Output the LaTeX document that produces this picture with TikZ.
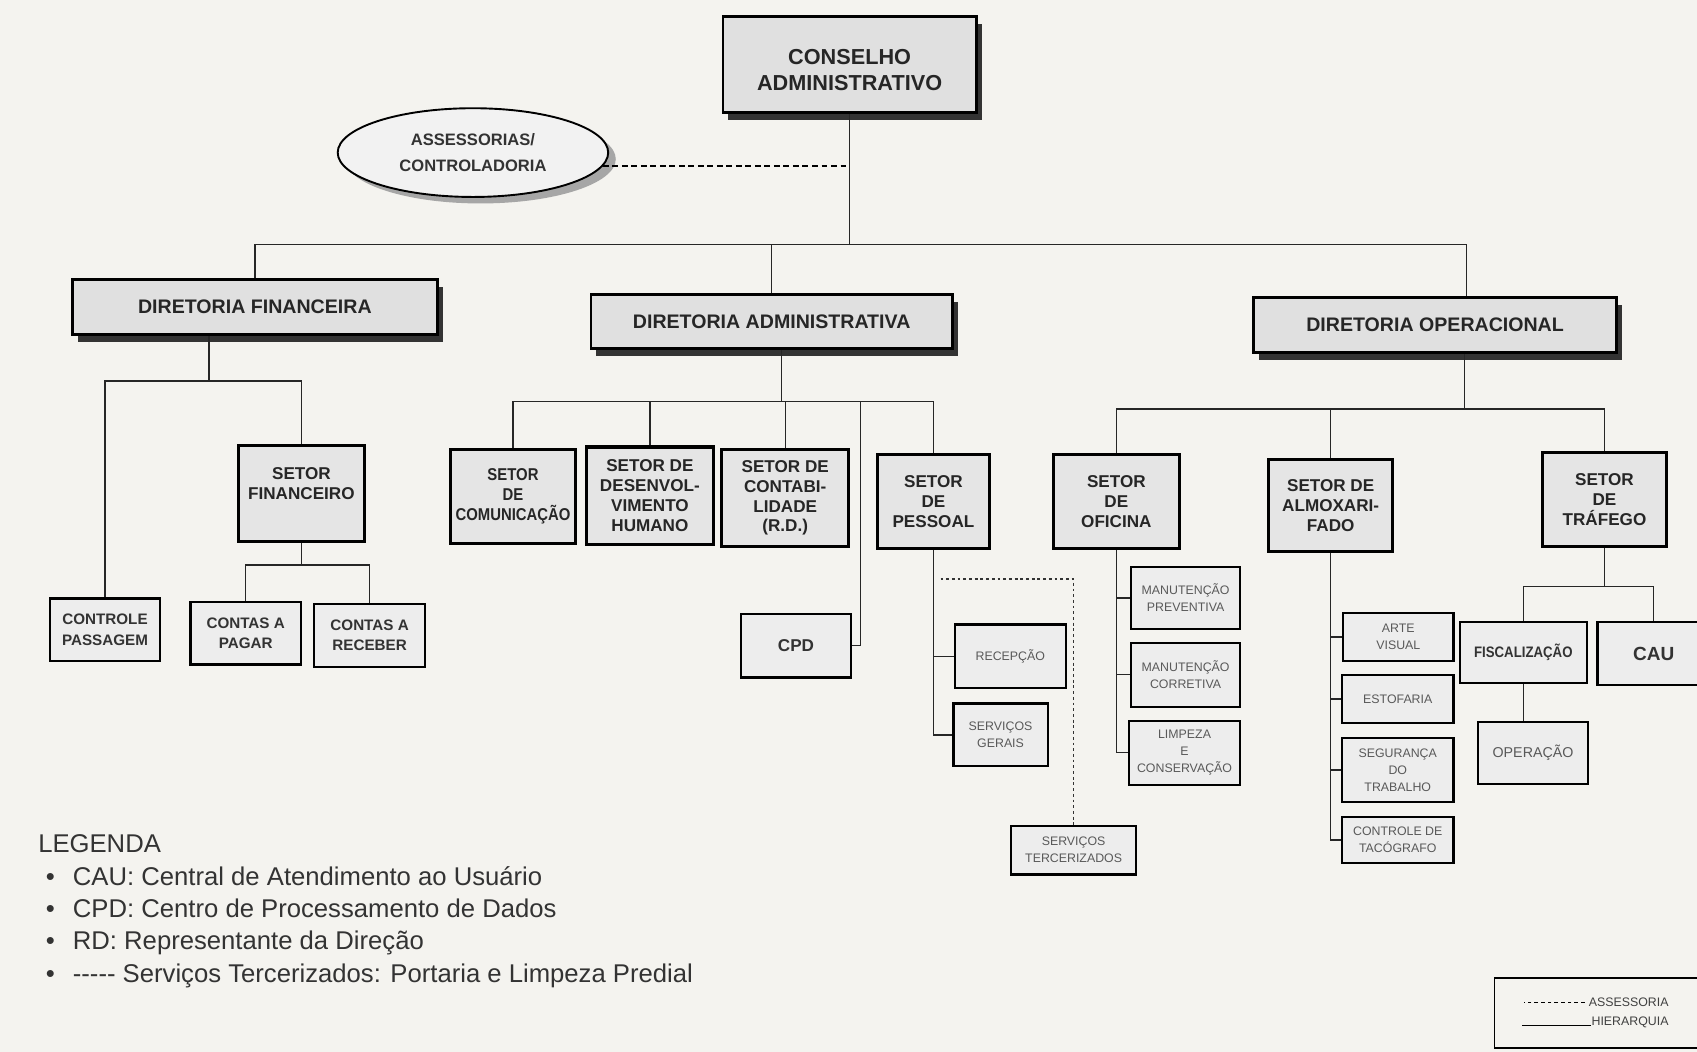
\documentclass[tikz,border=0pt]{standalone}
\usepackage{fontspec}
\setmainfont{Liberation Sans}
\newfontfamily\narrowfont[FakeStretch=0.87]{Liberation Sans}
\usetikzlibrary{shapes.geometric,shadows}
\definecolor{papel}{RGB}{244,243,239}

\begin{document}
\begin{tikzpicture}[x=0.02cm,y=-0.02cm,
  conn/.style={line width=0.7pt,black!85},
  assess/.style={line width=0.8pt,dash pattern=on 3pt off 2pt},
  terc/.style={line width=0.6pt,black!80,dash pattern=on 1.5pt off 1.5pt},
  dir/.style={draw,line width=1.5pt,fill=black!12,text=black!85,
    drop shadow={shadow xshift=0.1cm,shadow yshift=-0.14cm,fill=black!80,opacity=1},
    align=center,font=\bfseries\fontsize{10.3}{12.4}\selectfont,
    minimum width=6.72cm,minimum height=1.02cm},
  setor/.style={draw,line width=1.6pt,fill=black!10,text=black!85,align=center,inner sep=1pt,
    font=\bfseries\fontsize{9}{10.5}\selectfont,
    minimum width=2.32cm,minimum height=1.74cm},
  folha/.style={draw,line width=1.1pt,fill=black!7,text=black!80,align=center,inner sep=1pt,
    font=\bfseries\fontsize{8}{10.8}\selectfont,
    minimum width=2.04cm,minimum height=1.16cm},
  miudo/.style={folha,text=black!65,font=\fontsize{6.5}{9}\selectfont,minimum height=1.18cm}]
\useasboundingbox (0,0) rectangle (1568,972);
\fill[papel] (0,0) rectangle (1568,972);

\node[dir,font=\bfseries\fontsize{11.4}{13.6}\selectfont,minimum width=4.68cm,minimum height=1.78cm] (cons) at (785,59.5) {~\\CONSELHO\\ADMINISTRATIVO};
\node[ellipse,draw,line width=1pt,fill=black!5,text=black!80,align=center,
  drop shadow={shadow xshift=0.14cm,shadow yshift=-0.12cm,fill=black!35,opacity=1},
  font=\bfseries\fontsize{8.7}{14}\selectfont,minimum width=5cm,minimum height=1.64cm] (asses) at (437,141) {ASSESSORIAS/\\CONTROLADORIA};

\node[dir,minimum width=6.74cm] (dfin) at (235.5,283.5) {DIRETORIA FINANCEIRA};
\node[dir,minimum width=6.68cm,minimum height=1cm] (dadm) at (713,297) {DIRETORIA ADMINISTRATIVA};
\node[dir] (dop) at (1326,300.5) {DIRETORIA OPERACIONAL};

\coordinate (mbus) at (787,226);
\coordinate (dopin) at (1355,226);
\coordinate (asend) at (asses.-6);
\draw[conn] (cons.south) -- (cons.south |- mbus);
\draw[conn] (dfin.north) |- (mbus);
\draw[conn] (dadm.north) |- (mbus) -- (dopin) -- (dopin |- dop.north);
\draw[assess] (asend) -- (asend -| cons.south);

\node[setor,minimum width=2.34cm,minimum height=1.76cm] (sfin) at (278.5,456) {SETOR\\FINANCEIRO\\~};
\node[folha] (cpass) at (97,582) {CONTROLE\\PASSAGEM};
\node[folha] (cpag) at (227,585) {CONTAS A\\PAGAR};
\node[folha] (crec) at (341.5,587) {CONTAS A\\RECEBER};
\coordinate (fbus) at (193,352);
\coordinate (sfbus) at (278.5,522);
\draw[conn] (fbus |- dfin.south) -- (fbus);
\draw[conn] (cpass.north) |- (fbus) -| (sfin.north);
\draw[conn] (sfin.south) -- (sfbus);
\draw[conn] (cpag.north) |- (sfbus) -| (crec.north);

\node[setor,font=\narrowfont\bfseries\fontsize{9}{10.5}\selectfont] (scom) at (474,458.5) {SETOR\\DE\\COMUNICAÇÃO};
\node[setor,minimum width=2.34cm,minimum height=1.8cm] (sdes) at (600.5,458) {SETOR DE\\DESENVOL-\\VIMENTO\\HUMANO};
\node[setor,minimum width=2.34cm,minimum height=1.8cm] (scont) at (725.5,460) {SETOR DE\\CONTABI-\\LIDADE\\(R.D.)};
\node[setor,minimum width=2.06cm] (spes) at (862.5,463.5) {SETOR\\DE\\PESSOAL};
\node[folha,font=\bfseries\fontsize{9}{11}\selectfont,minimum height=1.18cm] (cpd) at (735.5,596.5) {CPD};
\coordinate (abus) at (722,371);
\coordinate (cpdup) at (795,371);
\draw[conn] (abus |- dadm.south) -- (abus);
\draw[conn] (scom.north) |- (abus);
\draw[conn] (sdes.north) |- (abus);
\draw[conn] (scont.north) |- (abus);
\draw[conn] (spes.north) |- (abus);
\draw[conn] (cpdup) |- (cpd.east);

\node[miudo,minimum width=2.06cm] (recep) at (933.5,606.5) {RECEPÇÃO};
\node[miudo,minimum width=1.74cm,minimum height=1.16cm] (sger) at (924.5,679) {SERVIÇOS\\GERAIS};
\node[miudo,minimum width=2.32cm,minimum height=0.9cm] (sterc) at (992,785.5) {SERVIÇOS\\TERCERIZADOS};
\coordinate (tercini) at (869,535);
\draw[conn] (spes.south) |- (recep.west);
\draw[conn] (spes.south) |- (sger.west);
\draw[terc] (tercini) -| (sterc.north);

\node[setor,minimum width=2.34cm] (sofi) at (1031.5,463.5) {SETOR\\DE\\OFICINA};
\node[setor,minimum width=2.3cm,minimum height=1.7cm] (salm) at (1229.5,467.5) {SETOR DE\\ALMOXARI-\\FADO};
\node[setor,minimum width=2.3cm] (straf) at (1482.5,461.5) {SETOR\\DE\\TRÁFEGO};
\coordinate (obus) at (1353,378);
\draw[conn] (obus |- dop.south) -- (obus);
\draw[conn] (sofi.north) |- (obus);
\draw[conn] (salm.north) |- (obus);
\draw[conn] (straf.north) |- (obus);

\node[miudo,minimum width=2.02cm,minimum height=1.14cm] (mprev) at (1095.5,552.5) {MANUTENÇÃO\\PREVENTIVA};
\node[miudo,minimum width=2.02cm] (mcorr) at (1095.5,623.5) {MANUTENÇÃO\\CORRETIVA};
\node[miudo,minimum width=2.06cm] (limp) at (1094.5,695.5) {LIMPEZA\\E\\CONSERVAÇÃO};
\draw[conn] (sofi.south) |- (mprev.west);
\draw[conn] (sofi.south) |- (mcorr.west);
\draw[conn] (sofi.south) |- (limp.west);

\node[miudo,minimum height=0.9cm] (arte) at (1292,588.5) {ARTE\\VISUAL};
\node[miudo,minimum width=2.06cm,minimum height=0.88cm] (estof) at (1291.5,646) {ESTOFARIA};
\node[miudo,minimum width=2.06cm] (segur) at (1291.5,711.5) {SEGURANÇA\\DO\\TRABALHO};
\node[miudo,minimum width=2.06cm,minimum height=0.84cm] (ctaco) at (1291.5,776) {CONTROLE DE\\TACÓGRAFO};
\draw[conn] (salm.south) |- (arte.west);
\draw[conn] (salm.south) |- (estof.west);
\draw[conn] (salm.south) |- (segur.west);
\draw[conn] (salm.south) |- (ctaco.west);

\node[folha,font=\narrowfont\bfseries\fontsize{8}{10}\selectfont,minimum width=2.34cm,minimum height=1.12cm] (fisc) at (1407.5,603) {FISCALIZAÇÃO};
\node[folha,font=\bfseries\fontsize{10}{12}\selectfont,minimum width=2.08cm] (cau) at (1528,604) {CAU};
\node[miudo,font=\fontsize{7.5}{9}\selectfont,minimum width=2.02cm,minimum height=1.14cm] (oper) at (1416.5,695.5) {OPERAÇÃO};
\coordinate (tbus) at (1482.5,542);
\draw[conn] (straf.south) -- (tbus);
\draw[conn] (fisc.north) |- (tbus) -| (cau.north);
\draw[conn] (fisc.south) -- (fisc.south |- oper.north);

\node[anchor=north west,align=left,inner sep=0pt,text=black!80,font=\fontsize{13.5}{17}\selectfont] (leg) at (35,771)
  {LEGENDA\\
   \makebox[0.64cm][l]{\hspace{0.14cm}\textbullet}CAU: Central de Atendimento ao Usuário\\
   \makebox[0.64cm][l]{\hspace{0.14cm}\textbullet}CPD: Centro de Processamento de Dados\\
   \makebox[0.64cm][l]{\hspace{0.14cm}\textbullet}RD: Representante da Direção\\
   \makebox[0.64cm][l]{\hspace{0.14cm}\textbullet}-{}-{}-{}-{}- Serviços Tercerizados: Portaria e Limpeza Predial};

\node[draw,line width=0.8pt,fill=papel,minimum width=3.8cm,minimum height=1.3cm] (legbox) at (1476,936) {};
\node[anchor=east,inner sep=0pt,text=black!75,font=\fontsize{6.5}{7}\selectfont] (lass) at (1542,926) {ASSESSORIA};
\node[anchor=east,inner sep=0pt,text=black!75,font=\fontsize{6.5}{7}\selectfont] (lhie) at (1542,945) {HIERARQUIA};
\draw[line width=0.6pt,dash pattern=on 2pt off 1.5pt] ([xshift=-2pt]lass.west) -- ++(-56,0);
\draw[line width=0.6pt] (lhie.base west) -- ++(-64,0);
\end{tikzpicture}
\end{document}
